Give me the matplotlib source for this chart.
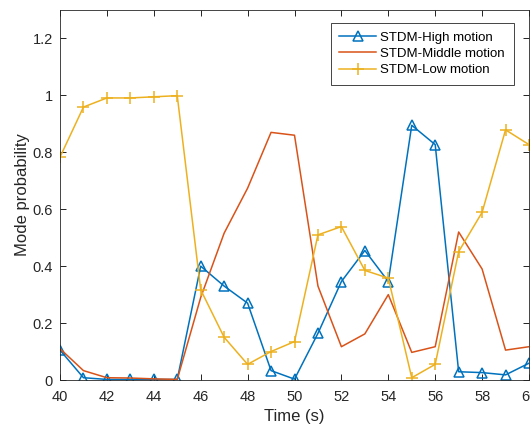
import matplotlib
matplotlib.use('Agg')
import matplotlib.pyplot as plt

plt.rcParams['font.family'] = ['Liberation Sans', 'DejaVu Sans']

time_s = list(range(40, 61))
high_motion = [0.105, 0.008, 0.002, 0.002, 0.002, 0.002, 0.40, 0.33, 0.27, 0.033, 0.003,
               0.164, 0.346, 0.455, 0.346, 0.895, 0.827, 0.029, 0.026, 0.018, 0.059]
middle_motion = [0.11, 0.033, 0.008, 0.007, 0.004, 0.002, 0.29, 0.516, 0.674, 0.87, 0.86,
                 0.33, 0.117, 0.162, 0.30, 0.097, 0.117, 0.52, 0.39, 0.105, 0.117]
low_motion = [0.783, 0.959, 0.991, 0.991, 0.995, 0.999, 0.317, 0.15, 0.055, 0.10, 0.135,
              0.51, 0.539, 0.385, 0.358, 0.008, 0.055, 0.451, 0.589, 0.879, 0.827]

fig = plt.figure(figsize=(5.3, 4.25), dpi=100)
ax = fig.add_axes([60 / 530, 45 / 425, 469 / 530, 370 / 425])

ax.plot(time_s, high_motion, color='#0072BD', marker='^', markersize=7.5,
        markerfacecolor='none', markeredgewidth=1.1, linewidth=1.1, label='STDM-High motion')
ax.plot(time_s, middle_motion, color='#D95319', linewidth=1.1, label='STDM-Middle motion')
ax.plot(time_s, low_motion, color='#EDB120', marker='+', markersize=9,
        markeredgewidth=1.1, linewidth=1.1, label='STDM-Low motion')

ax.set_xlim(40, 60)
ax.set_ylim(0, 1.3)
ax.set_xticks(range(40, 61, 2))
ax.set_yticks([0, 0.2, 0.4, 0.6, 0.8, 1, 1.2])
ax.set_yticklabels(['0', '0.2', '0.4', '0.6', '0.8', '1', '1.2'])
ax.tick_params(direction='in', top=True, right=True, labelsize=10.5, length=4, width=0.6,
               labelcolor='#262626')
ax.tick_params(axis='x', pad=7.5)
ax.tick_params(axis='y', pad=5)
for s in ax.spines.values():
    s.set_linewidth(0.6)
    s.set_color('#262626')

ax.set_xlabel('Time (s)', fontsize=12, labelpad=3, color='#262626')
ax.set_ylabel('Mode probability', fontsize=12, labelpad=2, color='#262626')

leg = ax.legend(loc='upper right', bbox_to_anchor=(0.967, 0.965), fontsize=9.5,
                fancybox=False, framealpha=1, edgecolor='#262626', handlelength=2.8,
                borderpad=0.65, labelspacing=0.3, handletextpad=0.3, borderaxespad=0)
leg.get_frame().set_linewidth(0.6)

fig.savefig('out.png', dpi=100)
